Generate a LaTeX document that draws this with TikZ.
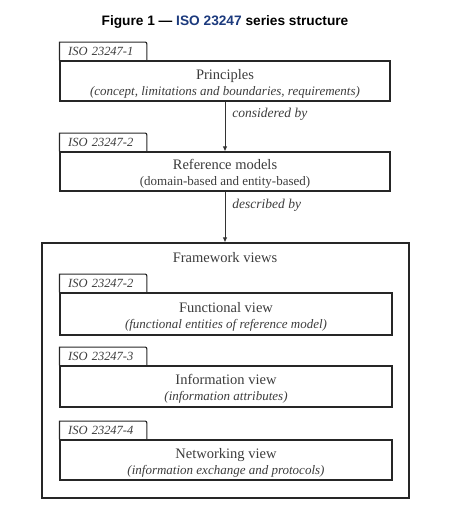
\documentclass[tikz,border=0pt]{standalone}
\usepackage{fontspec}
\setmainfont{Liberation Serif}
\newfontfamily\headfont{Liberation Sans}
\usetikzlibrary{arrows.meta,positioning}
\definecolor{isoblue}{RGB}{28,58,125}
\definecolor{inkgray}{RGB}{60,60,60}
\newcommand{\subsize}{\fontsize{13}{16}\selectfont}
\newcommand{\headstrut}{\rule{0pt}{15.5pt}}

\begin{document}
\begin{tikzpicture}[x=1pt,y=-1pt,
    partbox/.style={draw=black!85,line width=1.1pt,minimum width=330pt,minimum height=40pt,
      inner sep=0pt,align=center,text=inkgray,font=\fontsize{14.5}{16}\selectfont},
    tabnode/.style={anchor=south west,minimum height=18pt,text width=70pt,inner xsep=8.5pt,
      inner ysep=0pt,align=left,text=inkgray,font=\itshape\fontsize{12.5}{14}\selectfont},
    tabline/.style={draw=black!85,line width=1.1pt},
    flow/.style={draw=black!80,line width=0.9pt,-{Latex[length=5pt,width=4.5pt]}},
    flowlabel/.style={anchor=west,inner sep=0pt,xshift=7pt,text=inkgray,font=\itshape\fontsize{13.5}{15}\selectfont}]

    \useasboundingbox (0,0) rectangle (465,512);

    \node[font=\headfont\bfseries\fontsize{13.7}{15}\selectfont] (title) at (225,22)
      {Figure 1 \textemdash{} \textcolor{isoblue}{ISO 23247} series structure};

    \node[partbox] (principles) at (225,81)
      {\headstrut Principles\\{\subsize\itshape (concept, limitations and boundaries, requirements)}};
    \node[tabnode] (tabone) at (principles.north west) {ISO 23247-1};

    \node[partbox,minimum height=39pt] (refmodels) at (225,171.5)
      {\headstrut Reference models\\{\subsize (domain-based and entity-based)}};
    \node[tabnode] (tabtwo) at (refmodels.north west) {ISO 23247-2};

    \node[draw=black!85,line width=1.1pt,minimum width=367pt,minimum height=255pt] (framework) at (225.5,370.5) {};
    \node[text=inkgray,font=\fontsize{14.5}{16}\selectfont] (fwlabel) at (225,258) {Framework views};

    \node[partbox,minimum width=332pt,minimum height=42pt] (functional) at (226,314)
      {\headstrut Functional view\\{\subsize\itshape (functional entities of reference model)}};
    \node[tabnode] (tabfunc) at (functional.north west) {ISO 23247-2};

    \node[partbox,minimum width=332pt,minimum height=41pt] (information) at (226,386.5)
      {\headstrut Information view\\{\subsize\itshape (information attributes)}};
    \node[tabnode] (tabinfo) at (information.north west) {ISO 23247-3};

    \node[partbox,minimum width=332pt,minimum height=40pt] (networking) at (226,460)
      {\headstrut Networking view\\{\subsize\itshape (information exchange and protocols)}};
    \node[tabnode] (tabnet) at (networking.north west) {ISO 23247-4};

    \foreach \t in {tabone,tabtwo,tabfunc,tabinfo,tabnet}
      \draw[tabline] (\t.south west) -- (\t.north west) -- ([xshift=-4pt]\t.north east)
        .. controls (\t.north east) .. ([yshift=-4pt]\t.north east) -- (\t.south east);

    \draw[flow] (principles.south) -- node[flowlabel,pos=0.25] {considered by} (refmodels.north);
    \draw[flow] (refmodels.south) -- node[flowlabel,pos=0.27] {described by} (refmodels.south |- framework.north);
\end{tikzpicture}
\end{document}
